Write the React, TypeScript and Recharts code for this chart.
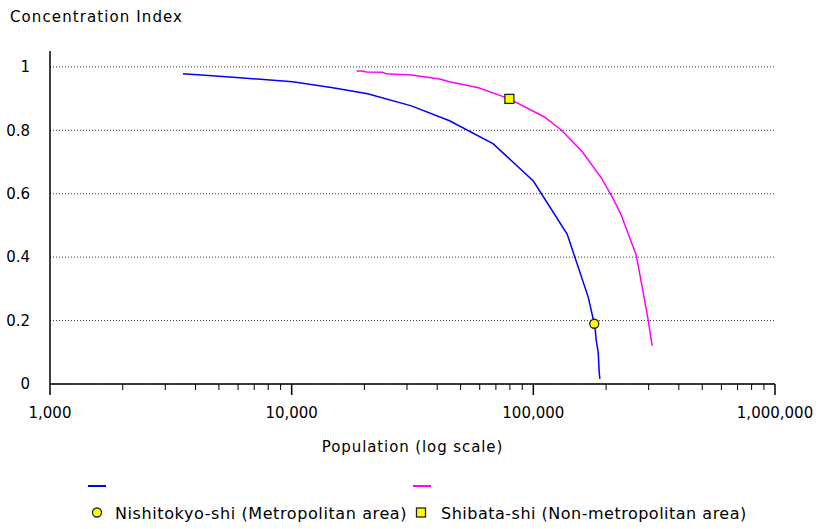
import React from 'react';
import {
  CartesianGrid,
  ComposedChart,
  Line,
  Scatter,
  XAxis,
  YAxis,
} from 'recharts';

// concentration curve, metropolitan area (Nishitokyo-shi)
const metroPop = [3550, 5550, 10100, 14800, 20600, 31300, 45000, 68300, 100000, 138000, 168700, 178700, 180400, 182000, 185600, 187400, 188500];
const metroIdx = [0.978, 0.968, 0.953, 0.934, 0.915, 0.877, 0.83, 0.757, 0.64, 0.473, 0.274, 0.19, 0.17, 0.139, 0.098, 0.035, 0.016];

// non-metropolitan area (Shibata-shi)
const nonMetroPop = [18560, 19650, 20400, 23770, 24700, 27930, 30730, 40900, 45000, 59300, 79600, 111100, 130500, 159400, 191000, 212100, 231000, 266400, 282100, 298600, 310200];
const nonMetroIdx = [0.987, 0.987, 0.984, 0.983, 0.978, 0.976, 0.975, 0.962, 0.953, 0.934, 0.899, 0.842, 0.801, 0.732, 0.65, 0.59, 0.533, 0.407, 0.306, 0.202, 0.12];

const cityNames = ['Nishitokyo-shi (Metropolitan area)', 'Shibata-shi (Non-metropolitan area)'];
const cityPop = [178700, 79600];
const cityIdx = [0.19, 0.899];

const yTicks = [0, 0.2, 0.4, 0.6, 0.8, 1];
const decades = [1000, 10000, 100000, 1000000];

const xTicks: number[] = [];
decades.forEach((d, i) => {
  xTicks.push(d);
  if (i < decades.length - 1) {
    for (let k = 2; k <= 9; k++) xTicks.push(d * k);
  }
});

const metroData = metroPop.map((p, i) => ({ pop: p, idx: metroIdx[i] }));
const nonMetroData = nonMetroPop.map((p, i) => ({ pop: p, idx: nonMetroIdx[i] }));
const metroCity = [{ pop: cityPop[0], idx: cityIdx[0] }];
const nonMetroCity = [{ pop: cityPop[1], idx: cityIdx[1] }];

// no serif face is available here, DejaVu Sans matches the text widths best
const FONT = '"DejaVu Sans", sans-serif';
const FS = 15;
const BLUE = '#0000ff';
const PINK = '#ff00ff';
const YELLOW = '#ffff00';

const XTick = (props: any) => {
  const { x, y, payload } = props;
  const v = payload.value;
  const major = decades.includes(v);
  return (
    <g>
      <line x1={x} x2={x} y1={y} y2={y + (major ? 11 : 6)} stroke="#000" strokeWidth={major ? 1.5 : 1} />
      {major && (
        <text x={x} y={y + 34} textAnchor="middle" fontSize={FS} fontFamily={FONT} fill="#000">
          {v.toLocaleString('en-US')}
        </text>
      )}
    </g>
  );
};

const Circle = (p: any) => (
  <circle cx={p.cx} cy={p.cy} r={4.5} fill={YELLOW} stroke="#222" strokeWidth={1.3} />
);
const Square = (p: any) => (
  <rect x={p.cx - 4.5} y={p.cy - 4.5} width={9} height={9} fill={YELLOW} stroke="#222" strokeWidth={1.3} />
);

const App = () => {
  return (
    <div style={{ position: 'absolute', left: 0, top: 0, width: 820, height: 529, background: '#fff', fontFamily: FONT }}>
      <div style={{ position: 'absolute', left: 10, top: 8, fontSize: FS, letterSpacing: 1.1, color: '#000' }}>Concentration Index</div>
      <ComposedChart
        width={820}
        height={470}
        margin={{ top: 51, right: 45, left: 10, bottom: 0 }}
      >
        <CartesianGrid vertical={false} stroke="#333" strokeDasharray="1 2" syncWithTicks />
        <XAxis
          dataKey="pop"
          type="number"
          scale="log"
          domain={[1000, 1000000]}
          ticks={xTicks}
          interval={0}
          allowDataOverflow
          tick={<XTick />}
          tickLine={false}
          tickSize={0}
          tickMargin={0}
          height={86}
          axisLine={{ stroke: '#000', strokeWidth: 1.5 }}
          label={(lp: any) => {
            const vb = lp.viewBox;
            return (
              <text x={vb.x + vb.width / 2} y={vb.y + 68} textAnchor="middle" fontSize={FS} letterSpacing={0.9} fontFamily={FONT} fill="#000">
                Population (log scale)
              </text>
            );
          }}
        />
        <YAxis
          dataKey="idx"
          type="number"
          domain={[0, 1.05]}
          ticks={yTicks}
          interval={0}
          width={40}
          tickLine={false}
          tickMargin={14}
          axisLine={{ stroke: '#000', strokeWidth: 1.5 }}
          tick={{ fontSize: FS, fontFamily: FONT, fill: '#000' }}
        />
        <Line data={metroData} dataKey="idx" type="linear" stroke={BLUE} strokeWidth={1.5} dot={false} isAnimationActive={false} />
        <Line data={nonMetroData} dataKey="idx" type="linear" stroke={PINK} strokeWidth={1.5} dot={false} isAnimationActive={false} />
        <Scatter data={metroCity} dataKey="idx" shape={<Circle />} isAnimationActive={false} />
        <Scatter data={nonMetroCity} dataKey="idx" shape={<Square />} isAnimationActive={false} />
      </ComposedChart>
      {/* legend */}
      <div style={{ position: 'absolute', left: 88, top: 485, width: 18, height: 2, background: BLUE }} />
      <div style={{ position: 'absolute', left: 413, top: 485, width: 18, height: 2, background: PINK }} />
      <svg style={{ position: 'absolute', left: 0, top: 500 }} width={820} height={29}>
        <circle cx={97} cy={12.5} r={4.5} fill={YELLOW} stroke="#222" strokeWidth={1.3} />
        <rect x={416.5} y={8} width={9} height={9} fill={YELLOW} stroke="#222" strokeWidth={1.3} />
        <text x={115} y={18.5} fontSize={16} letterSpacing={0.6} fontFamily={FONT} fill="#000">{cityNames[0]}</text>
        <text x={441} y={18.5} fontSize={16} letterSpacing={0.5} fontFamily={FONT} fill="#000">{cityNames[1]}</text>
      </svg>
    </div>
  );
};

export default App;
